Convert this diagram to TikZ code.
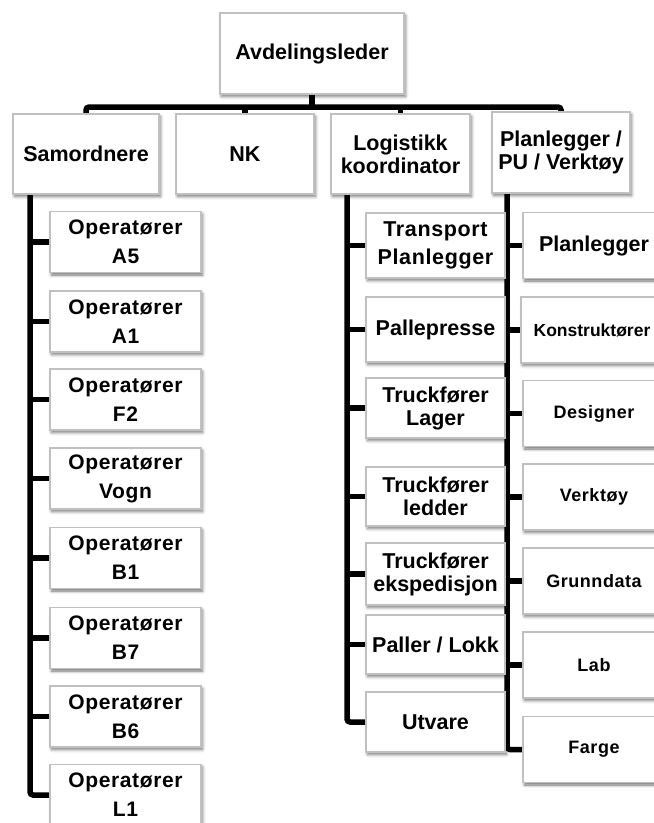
\documentclass[tikz,border=0pt]{standalone}
\usepackage{fontspec}
\setmainfont{Liberation Sans}
\newfontfamily\spaced[LetterSpace=3]{Liberation Sans}
\usetikzlibrary{shadows.blur}
\pgfdeclarelayer{bg}
\pgfsetlayers{bg,main}
\definecolor{boxgray}{RGB}{192,192,192}

\tikzset{
  box/.style={draw=boxgray, line width=1.2pt, fill=white,
    blur shadow={shadow xshift=1.5pt, shadow yshift=-2.5pt,
      shadow blur radius=3pt, shadow opacity=55},
    align=center, inner sep=0pt,
    font=\bfseries\fontsize{21.5}{23}\selectfont},
  topbox/.style={box, minimum width=184pt, minimum height=81pt},
  headbox/.style={box, minimum width=140pt, minimum height=80pt},
  opbox/.style={box, minimum width=151pt, minimum height=61pt,
    font=\spaced\bfseries\fontsize{21}{29}\selectfont},
  logbox/.style={box, minimum width=139pt, minimum height=61pt},
  toolbox/.style={box, minimum width=142pt, minimum height=66pt,
    font=\spaced\bfseries\fontsize{18}{20}\selectfont},
  conn/.style={line width=5.5pt, rounded corners=3pt},
}

\begin{document}
\begin{tikzpicture}[x=1pt, y=-1pt]
\useasboundingbox (0,0) rectangle (654,823);

% top level
\node[topbox] (avd) at (312,53.5) {Avdelingsleder};

% second level
\node[headbox, minimum width=146pt] (samord) at (86,154) {Samordnere};
\node[headbox, minimum width=138pt] (nk) at (245,154) {NK};
\node[headbox, minimum width=139pt] (logi) at (400.5,154) {Logistikk\\koordinator};
\node[headbox, minimum width=138pt, minimum height=81pt] (plan) at (561,152.5) {Planlegger /\\PU / Verktøy};

% operators under Samordnere
\node[opbox] (a5)   at (125.5,242)   {Operatører\\A5};
\node[opbox] (a1)   at (125.5,321.5) {Operatører\\A1};
\node[opbox] (f2)   at (125.5,399.5) {Operatører\\F2};
\node[opbox] (vogn) at (125.5,478.5) {Operatører\\Vogn};
\node[opbox] (b1)   at (125.5,558)   {Operatører\\B1};
\node[opbox] (b7)   at (125.5,638)   {Operatører\\B7};
\node[opbox] (b6)   at (125.5,716.5) {Operatører\\B6};
\node[opbox] (l1)   at (125.5,795)   {Operatører\\L1};

% logistics column
\node[logbox, minimum height=65pt, font=\spaced\bfseries\fontsize{21.5}{28}\selectfont] (transp) at (435.5,245.5) {Transport\\Planlegger};
\node[logbox, minimum height=65pt] (palp)  at (435.5,329.5) {Pallepresse};
\node[logbox, minimum height=60pt] (lager) at (435.5,408)   {Truckfører\\Lager};
\node[logbox, minimum height=59pt] (ledd)  at (435.5,496.5) {Truckfører\\ledder};
\node[logbox, minimum height=62pt] (eksp)  at (435.5,574)   {Truckfører\\ekspedisjon};
\node[logbox, minimum height=59pt] (lokk)  at (435.5,644.5) {Paller / Lokk};
\node[logbox, minimum height=60pt] (utv)   at (435.5,722)   {Utvare};

% planning / tools column
\node[toolbox, font=\bfseries\fontsize{21.5}{23}\selectfont] (pl) at (594,245.5) {Planlegger};
\node[toolbox, font=\bfseries\fontsize{17.5}{20}\selectfont] (kons) at (592,330) {Konstruktører};
\node[toolbox] (des)  at (594,413.5) {Designer};
\node[toolbox] (verk) at (594,497)   {Verktøy};
\node[toolbox] (grd)  at (594,581)   {Grunndata};
\node[toolbox] (lab)  at (594,665)   {Lab};
\node[toolbox] (farg) at (594,749.5) {Farge};

% column spines start just below the heading boxes
\coordinate (bus) at (0,107);
\coordinate (sc) at (30,194);
\coordinate (lc) at (347,194);
\coordinate (rc) at (507,193);

\begin{pgfonlayer}{bg}
  \draw[conn] (avd.south) -- (avd.south |- bus);
  \draw[conn] (samord.north) |- (bus -| plan.north) -- (plan.north);
  \draw[conn] (nk.north) -- (nk.north |- bus);
  \draw[conn] (logi.north) -- (logi.north |- bus);

  \draw[conn] (sc) |- (l1.west);
  \foreach \n in {a5,a1,f2,vogn,b1,b7,b6}
    \draw[conn] (sc |- \n.west) -- (\n.west);

  \draw[conn] (lc) |- (utv.west);
  \foreach \n in {transp,palp,lager,ledd,eksp,lokk}
    \draw[conn] (lc |- \n.west) -- (\n.west);

  \draw[conn] (rc) |- (farg.west);
  \foreach \n in {pl,kons,des,verk,grd,lab}
    \draw[conn] (rc |- \n.west) -- (\n.west);
\end{pgfonlayer}
\end{tikzpicture}
\end{document}
